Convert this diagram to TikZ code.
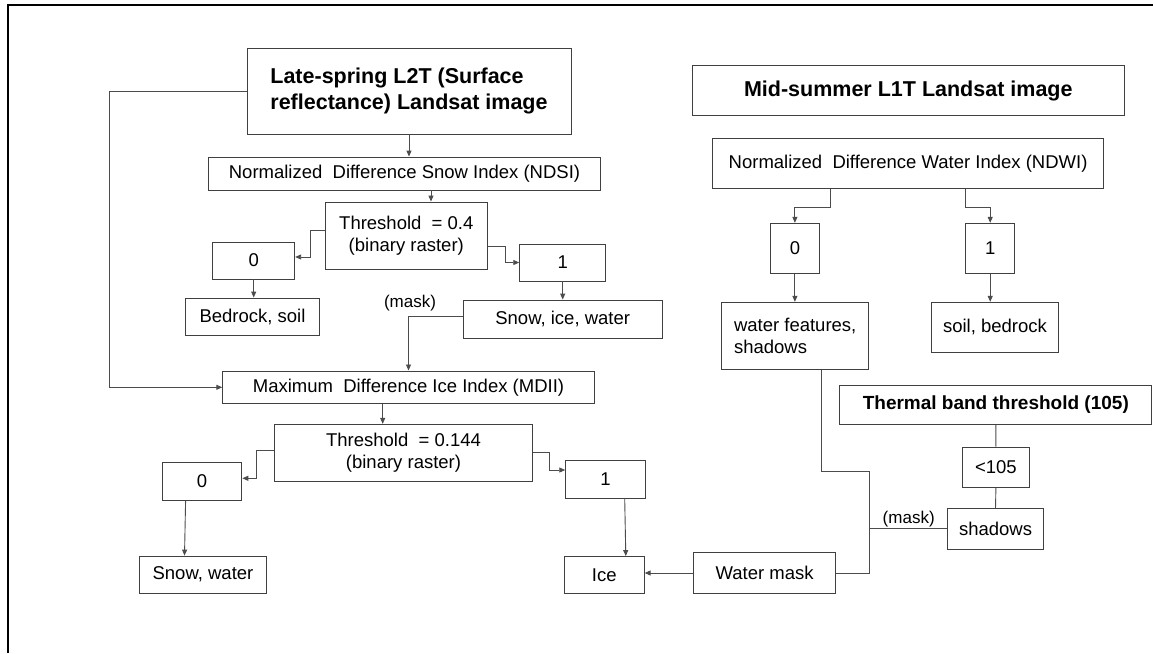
\documentclass[tikz,border=0pt]{standalone}
\usepackage{fontspec}
\setmainfont{Liberation Sans}
\usetikzlibrary{arrows.meta,calc}
\begin{document}
\begin{tikzpicture}[x=1pt,y=-1pt,
  box/.style={draw=black!75, line width=0.9pt, inner sep=0pt, align=center, text=black,
    font=\fontsize{18.5}{22.5}\selectfont},
  bbox/.style={box, font=\fontsize{21.5}{26}\selectfont\bfseries},
  tbox/.style={box, font=\fontsize{19}{23}\selectfont\bfseries},
  sz/.style 2 args={minimum width=#1, minimum height=#2},
  con/.style={draw=black!70, line width=0.9pt},
  arr/.style={con, -{Triangle[length=6pt,width=5pt]}},
  lbl/.style={inner sep=0pt, text=black, font=\fontsize{17}{20}\selectfont}]
\useasboundingbox (0,0) rectangle (1153,653);
\fill[white] (0,0) rectangle (1153,653);
% frame
\draw[line width=2.2pt, black] (8,653) -- (8,5) -- (1153,5);

% left column
\node[bbox, sz={324}{86}, align=left] (late) at (409,91) {Late-spring L2T (Surface\\reflectance) Landsat image};
\node[box, sz={392}{33}] (ndsi) at (404.5,173.5) {Normalized\ \ Difference Snow Index (NDSI)};
\node[box, sz={162.5}{67}] (thr1) at (406.3,235.5) {Threshold\ \ = 0.4\\(binary raster)};
\node[box, sz={82}{37}] (zeroa) at (253.7,260.5) {0};
\node[box, sz={134}{37}] (bed) at (252.5,316.5) {Bedrock, soil};
\node[box, sz={86}{37}] (onea) at (562.7,262.5) {1};
\node[box, sz={198.6}{38}] (snow) at (562.7,319) {Snow, ice, water};
\node[lbl] (maska) at (410,303) {(mask)};
\node[box, sz={371.5}{32.7}] (mdii) at (408.5,387.3) {Maximum\ \ Difference Ice Index (MDII)};
\node[box, sz={258.3}{57}] (thr2) at (403.5,452.8) {Threshold\ \ = 0.144\\(binary raster)};
\node[box, sz={79.6}{38}] (zerob) at (202.1,481.3) {0};
\node[box, sz={126.7}{37.3}] (snowwater) at (203,574.7) {Snow, water};
\node[box, sz={79.8}{37.6}] (oneb) at (605.6,479.5) {1};
\node[box, sz={80}{37}] (ice) at (604.2,575) {Ice};
\node[box, sz={141.4}{40.6}] (wmask) at (764.6,573) {Water mask};

% right column
\node[bbox, sz={432.7}{49.6}] (mid) at (908.3,90.5) {Mid-summer L1T Landsat image};
\node[box, sz={391.5}{49.6}] (ndwi) at (908.1,163.5) {Normalized\ \ Difference Water Index (NDWI)};
\node[box, sz={49.2}{50}] (zeroc) at (794.9,248.3) {0};
\node[box, sz={48.8}{50}] (onec) at (990.2,248.3) {1};
\node[box, sz={146.7}{67}, align=left] (wfeat) at (795.2,335.8) {water features,\\shadows};
\node[box, sz={127}{50}] (soilb) at (995,327.3) {soil, bedrock};
\node[tbox, sz={311.8}{39.3}] (thermal) at (995.8,404.7) {Thermal band threshold (105)};
\node[box, sz={67}{40.7}] (lt) at (995.9,467.3) {<105};
\node[box, sz={95.7}{40.3}] (shadows) at (995.5,528.8) {shadows};
\node[lbl] (maskb) at (908.7,519.3) {(mask)};

\coordinate (fbx) at (109.3,0);
\coordinate (ja) at (869.4,471.7);
\coordinate (jb) at (821,471.7);

% connectors left
\draw[arr] (late.south) -- (late.south |- ndsi.north);
\draw[arr] (late.west) -- (late.west -| fbx) |- (mdii.west);
\draw[arr] ([xshift=26.5pt]ndsi.south) -- ([xshift=26.5pt]ndsi.south |- thr1.north);
\draw[arr] ([yshift=5.5pt]thr1.west) -- ++(-14,0) |- ([yshift=3.5pt]zeroa.east);
\draw[arr] (zeroa.south) -- (zeroa.south |- bed.north);
\draw[arr] ([yshift=-10.5pt]thr1.east) -- ++(17,0) |- (onea.west);
\draw[arr] (onea.south) -- (onea.south |- snow.north);
\draw[arr] ([yshift=3pt]snow.west) -| (mdii.north);
\draw[arr] ([xshift=-25.8pt]mdii.south) -- ([xshift=-25.8pt]mdii.south |- thr2.north);
\draw[arr] ([yshift=2.1pt]thr2.west) -- ++(-17.2,0) |- ([yshift=3pt]zerob.east);
\draw[arr] ([xshift=-16.5pt]zerob.south) -- ([xshift=-18.5pt]snowwater.north);
\draw[arr] ([yshift=0.5pt]thr2.east) -- ++(16.5,0) |- ([yshift=9.5pt]oneb.west);
\draw[arr] ([xshift=19.1pt]oneb.south) -- ([xshift=21.6pt]ice.north);
\draw[arr] (wmask.west) -- (wmask.west -| ice.east);

% connectors right
\draw[con] (wmask.east) -| (ja) -- (jb) -- ([xshift=25.8pt]wfeat.south);
\draw[con] (shadows.west) -- (shadows.west -| ja);
\draw[con] (thermal.south) -- (lt.north);
\draw[con] (lt.south) -- (shadows.north);
\draw[arr] ([xshift=-77.3pt]ndwi.south) -- ++(0,18.7) -| (zeroc.north);
\draw[arr] ([xshift=57.7pt]ndwi.south) -- ++(0,18.7) -| (onec.north);
\draw[arr] (zeroc.south) -- (zeroc.south |- wfeat.north);
\draw[arr] (onec.south) -- (onec.south |- soilb.north);
\end{tikzpicture}
\end{document}
